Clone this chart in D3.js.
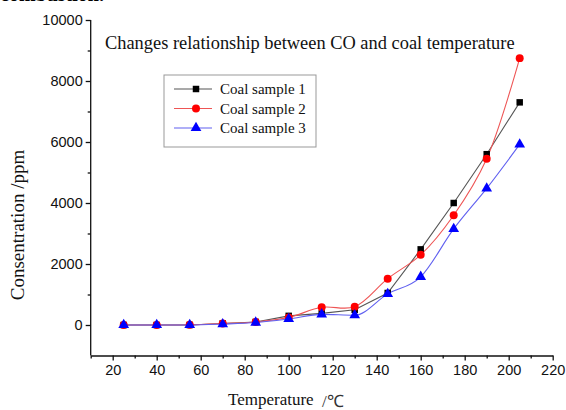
<!DOCTYPE html>
<html><head><meta charset="utf-8">
<script src="https://cdn.jsdelivr.net/npm/d3@7/dist/d3.min.js"></script>
<style>body{margin:0;background:#fff}svg{display:block}</style>
</head><body>
<script>
const temps = [25, 40, 55, 70, 85, 100, 115, 130, 145, 160, 175, 190, 205];
const sample1 = [0, 0, 0, 50, 100, 300, 380, 500, 1050, 2480, 4000, 5600, 7300];
const sample2 = [0, 0, 10, 50, 100, 250, 580, 600, 1520, 2300, 3600, 5450, 8750];
const sample3 = [0, 0, 0, 30, 80, 200, 350, 320, 1020, 1580, 3150, 4480, 5920];
const seriesNames = ["Coal sample 1", "Coal sample 2", "Coal sample 3"];
const xTicks = [20, 40, 60, 80, 100, 120, 140, 160, 180, 200, 220];
const yTicks = [0, 2000, 4000, 6000, 8000, 10000];
const titleText = "Changes relationship between CO and coal temperature";

const W = 566, H = 410;
const svg = d3.select("body").append("svg").attr("width", W).attr("height", H);

const x = d3.scaleLinear().domain([10, 220]).range([90.7, 552.7]);
const y = d3.scaleLinear().domain([-1000, 10000]).range([355.5, 20]);

const sansFont = "Liberation Sans, Arial, sans-serif";
const serifFont = "Liberation Serif, Times New Roman, serif";

// cut-off text at top (page text above the figure)
svg.append("text").attr("x", 0).attr("y", 1)
  .style("font-family", serifFont)
  .style("font-size", "20px").style("font-weight", "bold")
  .text("combustion.");

// Y axis
const yAxis = svg.append("g").attr("transform", `translate(${x(10)},0)`)
  .call(d3.axisLeft(y).tickValues(yTicks).tickSize(5).tickSizeOuter(0).tickPadding(3).tickFormat(d3.format("d")));
const yMinor = svg.append("g").attr("transform", `translate(${x(10)},0)`)
  .call(d3.axisLeft(y).tickValues([1000, 3000, 5000, 7000, 9000]).tickSize(3).tickSizeOuter(0).tickFormat(""));
yMinor.select(".domain").remove();

// X axis
const xAxis = svg.append("g").attr("transform", `translate(0,${y(-1000)})`)
  .call(d3.axisBottom(x).tickValues(xTicks).tickSize(5).tickSizeOuter(0).tickPadding(4));
const xMinor = svg.append("g").attr("transform", `translate(0,${y(-1000)})`)
  .call(d3.axisBottom(x).tickValues([10, 30, 50, 70, 90, 110, 130, 150, 170, 190, 210]).tickSize(3).tickSizeOuter(0).tickFormat(""));
xMinor.select(".domain").remove();

[yAxis, xAxis, yMinor, xMinor].forEach(g => {
  g.selectAll(".domain,line").attr("stroke", "#111").attr("stroke-width", 1.3);
  g.selectAll("text").style("font-family", sansFont).style("font-size", "14.5px").attr("fill", "#111");
});
yAxis.select(".domain").attr("d", `M0,${y(10000)}V${y(-1000)}`);

// title
svg.append("text").attr("x", 105).attr("y", 49)
  .style("font-family", serifFont).style("font-size", "18.4px").attr("fill", "#111")
  .text(titleText);

// axis titles
svg.append("text").attr("transform", `translate(24,225) rotate(-90)`)
  .attr("text-anchor", "middle")
  .style("font-family", serifFont).style("font-size", "19px").attr("fill", "#111")
  .text("Consentration /ppm");
svg.append("text").attr("x", 228).attr("y", 405)
  .style("font-family", serifFont).style("font-size", "17px").attr("fill", "#111")
  .text("Temperature");
svg.append("text").attr("x", 322).attr("y", 407)
  .style("font-family", serifFont).style("font-size", "17px").attr("fill", "#333")
  .text("/℃");

const series = [
  {vals: sample1, line: "#555", mark: "#000", shape: d3.symbolSquare, size: 42, curve: d3.curveLinear},
  {vals: sample2, line: "#ee5555", mark: "#ff0000", shape: d3.symbolCircle, size: 50, curve: d3.curveCatmullRom},
  {vals: sample3, line: "#6060f0", mark: "#0000ff", shape: d3.symbolTriangle, size: 50, curve: d3.curveMonotoneX}
];

series.forEach(s => {
  const data = temps.map((t, i) => [t, s.vals[i]]);
  svg.append("path").datum(data)
    .attr("fill", "none").attr("stroke", s.line).attr("stroke-width", 1.1)
    .attr("d", d3.line().x(d => x(d[0])).y(d => y(d[1])).curve(s.curve));
});
series.forEach(s => {
  const data = temps.map((t, i) => [t, s.vals[i]]);
  svg.append("g").selectAll("path").data(data).join("path")
    .attr("transform", d => `translate(${x(d[0])},${y(d[1])})`)
    .attr("d", d3.symbol().type(s.shape).size(s.size))
    .attr("fill", s.mark);
});

// legend
const lg = svg.append("g");
lg.append("rect").attr("x", 164).attr("y", 75).attr("width", 152).attr("height", 72)
  .attr("fill", "#fff").attr("stroke", "#999").attr("stroke-width", 1);
series.forEach((s, i) => {
  const ly = 89 + i * 19.5;
  lg.append("line").attr("x1", 174).attr("x2", 212).attr("y1", ly).attr("y2", ly)
    .attr("stroke", s.line).attr("stroke-width", 1.1);
  lg.append("path").attr("transform", `translate(196,${ly})`)
    .attr("d", d3.symbol().type(s.shape).size(s.size)).attr("fill", s.mark);
  lg.append("text").attr("x", 220).attr("y", ly + 5)
    .style("font-family", serifFont).style("font-size", "15px").attr("fill", "#111")
    .text(seriesNames[i]);
});
</script>
</body></html>
